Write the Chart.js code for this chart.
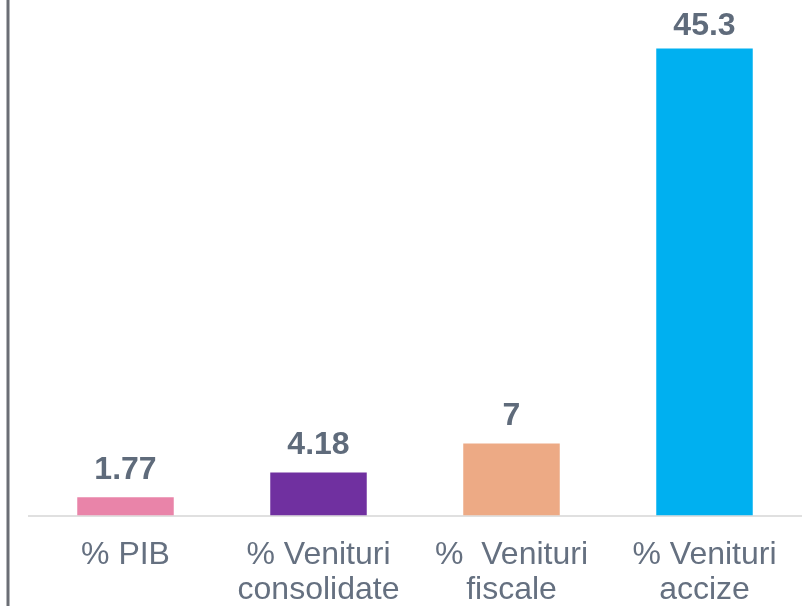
<!DOCTYPE html>
<html>
<head>
<meta charset="utf-8">
<script src="https://cdn.jsdelivr.net/npm/chart.js@4/dist/chart.umd.min.js"></script>
<style>
  html, body { margin: 0; padding: 0; background: #fff; }
  #wrap { width: 802px; height: 606px; position: relative; }
</style>
</head>
<body>
<div id="wrap"><canvas id="chart"></canvas></div>
<script>
var categories = [['% PIB'], ['% Venituri', 'consolidate'], ['%  Venituri', 'fiscale'], ['% Venituri', 'accize']];
var values = [1.77, 4.18, 7, 45.3];
var valueLabels = ['1.77', '4.18', '7', '45.3'];
var barColors = ['#E984A9', '#7030A0', '#EDAA85', '#00B0F0'];

// value labels over the bars (kept inside the top edge)
var barLabels = {
    id: 'barLabels',
    afterDatasetsDraw: function(chart) {
        var ctx = chart.ctx;
        var meta = chart.getDatasetMeta(0);
        ctx.save();
        ctx.font = 'bold 32px "Liberation Sans", Arial, sans-serif';
        ctx.fillStyle = '#5F6B7B';
        ctx.textAlign = 'center';
        ctx.textBaseline = 'alphabetic';
        meta.data.forEach(function(bar, i) {
            ctx.fillText(valueLabels[i], bar.x, Math.max(bar.y - 18, 35));
        });
        ctx.restore();
    }
};

// the dark vertical rule on the left, full height
var leftRule = {
    id: 'leftRule',
    beforeDraw: function(chart) {
        var ctx = chart.ctx;
        ctx.save();
        ctx.strokeStyle = '#6B6E75';
        ctx.lineWidth = 3;
        ctx.beginPath();
        ctx.moveTo(8, 0);
        ctx.lineTo(8, chart.height);
        ctx.stroke();
        ctx.restore();
    }
};

var chart = new Chart(document.getElementById('chart').getContext('2d'), {
    type: 'bar',
    data: {
        labels: categories,
        datasets: [{ data: values, backgroundColor: barColors, borderWidth: 0, categoryPercentage: 1, barPercentage: 0.5 }]
    },
    options: {
        responsive: true, maintainAspectRatio: false, animation: false,
        layout: { padding: { left: 29, right: 1, top: 0, bottom: -24 } },
        plugins: { legend: { display: false }, tooltip: { enabled: false } },
        scales: {
            x: {
                grid: { display: false, drawTicks: false },
                border: { display: true, color: '#E0E0E0', width: 2 },
                ticks: {
                    color: '#657080', padding: 22, maxRotation: 0, autoSkip: false,
                    font: { family: '"Liberation Sans", Arial, sans-serif', size: 32, lineHeight: 1.1 }
                }
            },
            y: { display: false, min: 0, max: 50 }
        }
    },
    plugins: [barLabels, leftRule]
});
</script>
</body>
</html>
